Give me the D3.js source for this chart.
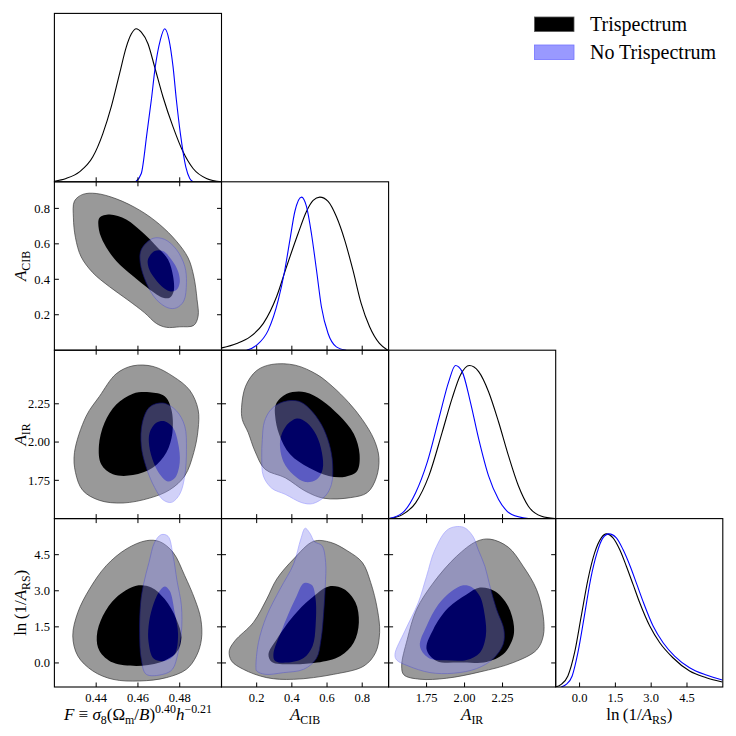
<!DOCTYPE html>
<html>
<head>
<meta charset="utf-8">
<script src="https://cdn.jsdelivr.net/npm/d3@7"></script>
<style>
  body { margin: 0; background: #fff; }
  svg { display: block; }
</style>
</head>
<body>
<svg id="chart" width="736" height="736" font-family="'Liberation Serif', 'DejaVu Serif', serif"></svg>
<script>
// ---- parameters (order of the triangle) ----
const domains = [[0.42, 0.50], [0, 0.95], [1.5, 2.6], [-1, 6]];
const ticks = [[0.44, 0.46, 0.48], [0.2, 0.4, 0.6, 0.8], [1.75, 2.0, 2.25], [0, 1.5, 3.0, 4.5]];
const tickFormats = [".2f", ".1f", ".2f", ".1f"];

// ---- 1D marginals: [value, relative density] ----
const F_tri = [[0.42,0.004],[0.4256,0.022],[0.432,0.065],[0.4384,0.163],[0.4432,0.315],[0.4472,0.489],[0.4512,0.707],[0.4544,0.88],[0.4568,0.965],[0.4592,1.0],[0.4616,0.978],[0.4648,0.902],[0.468,0.75],[0.472,0.554],[0.4768,0.359],[0.4816,0.196],[0.4864,0.087],[0.4928,0.022],[0.50,0.0]];
const F_noTri = [[0.4589,0],[0.4616,0.054],[0.4643,0.316],[0.4664,0.534],[0.4683,0.752],[0.4707,0.926],[0.4728,1.0],[0.4749,0.926],[0.4768,0.752],[0.4784,0.534],[0.4803,0.316],[0.4829,0.098],[0.4848,0.022],[0.4864,0]];
const ACIB_tri = [[0.002,0.015],[0.087,0.044],[0.162,0.087],[0.238,0.175],[0.313,0.349],[0.37,0.546],[0.436,0.764],[0.483,0.906],[0.521,0.978],[0.559,1.0],[0.606,0.972],[0.653,0.873],[0.70,0.721],[0.747,0.524],[0.794,0.306],[0.842,0.153],[0.898,0.044],[0.945,0.0]];
const ACIB_noTri = [[0.143,0],[0.20,0.033],[0.266,0.131],[0.323,0.328],[0.36,0.524],[0.389,0.721],[0.417,0.906],[0.455,1.0],[0.483,0.939],[0.511,0.764],[0.54,0.524],[0.568,0.284],[0.606,0.109],[0.653,0.022],[0.709,0]];
const AIR_tri = [[1.503,0],[1.591,0.026],[1.678,0.103],[1.765,0.279],[1.853,0.565],[1.918,0.785],[1.973,0.938],[2.032,1.0],[2.093,0.96],[2.158,0.829],[2.224,0.631],[2.289,0.411],[2.355,0.213],[2.42,0.081],[2.507,0.015],[2.595,0]];
const AIR_noTri = [[1.503,0],[1.591,0.037],[1.678,0.169],[1.754,0.367],[1.831,0.653],[1.896,0.895],[1.94,1.0],[1.984,0.96],[2.038,0.763],[2.093,0.521],[2.158,0.279],[2.224,0.125],[2.311,0.026],[2.42,0]];
const lnRS_tri = [[-1.02,0],[-0.77,0.017],[-0.49,0.072],[-0.21,0.224],[0.07,0.463],[0.35,0.702],[0.63,0.876],[0.91,0.974],[1.12,1.0],[1.40,0.974],[1.68,0.898],[1.96,0.789],[2.24,0.67],[2.52,0.55],[2.94,0.398],[3.36,0.289],[3.91,0.191],[4.61,0.104],[5.31,0.061],[5.98,0.033]];
const lnRS_noTri = [[-0.77,0],[-0.56,0.017],[-0.31,0.072],[-0.07,0.224],[0.20,0.463],[0.46,0.702],[0.73,0.876],[0.98,0.974],[1.23,1.0],[1.54,0.974],[1.82,0.898],[2.12,0.789],[2.40,0.67],[2.68,0.55],[3.08,0.398],[3.50,0.289],[3.98,0.202],[4.61,0.126],[5.31,0.078],[5.98,0.046]];

// ---- 2D contours (68% inner, 95% outer), vertices in data units ----
const F_ACIB_triOuter = [[0.4296,0.841],[0.4336,0.879],[0.44,0.884],[0.4496,0.854],[0.4608,0.79],[0.4704,0.709],[0.4784,0.615],[0.484,0.521],[0.4867,0.418],[0.4883,0.286],[0.4888,0.192],[0.4867,0.14],[0.48,0.132],[0.4736,0.129],[0.4688,0.151],[0.4632,0.211],[0.4552,0.283],[0.4464,0.358],[0.4384,0.437],[0.4328,0.527],[0.4301,0.634],[0.4291,0.747]];
const F_ACIB_triInner = [[0.4416,0.747],[0.4464,0.766],[0.4544,0.738],[0.4624,0.662],[0.4688,0.587],[0.4744,0.512],[0.4768,0.418],[0.4771,0.333],[0.4752,0.296],[0.472,0.296],[0.4656,0.343],[0.4576,0.418],[0.4496,0.503],[0.444,0.597],[0.4413,0.681]];
const F_ACIB_noTriOuter = [[0.4616,0.568],[0.4672,0.631],[0.4728,0.625],[0.4784,0.568],[0.4824,0.474],[0.4832,0.38],[0.4819,0.277],[0.4784,0.239],[0.4744,0.239],[0.4688,0.286],[0.464,0.38],[0.4611,0.493]];
const F_ACIB_noTriInner = [[0.4648,0.512],[0.468,0.559],[0.472,0.559],[0.476,0.512],[0.4792,0.446],[0.48,0.38],[0.4784,0.339],[0.4752,0.333],[0.4712,0.362],[0.4672,0.418],[0.4651,0.465]];

const F_AIR_triOuter = [[0.4296,1.931],[0.4352,2.169],[0.4416,2.299],[0.4496,2.446],[0.4576,2.498],[0.4672,2.494],[0.4768,2.429],[0.4848,2.338],[0.4888,2.212],[0.4888,2.082],[0.4867,1.931],[0.4824,1.779],[0.4752,1.688],[0.4656,1.634],[0.4528,1.602],[0.4416,1.619],[0.4336,1.684],[0.4301,1.801]];
const F_AIR_triInner = [[0.4413,1.974],[0.444,2.126],[0.4496,2.245],[0.4576,2.316],[0.4656,2.325],[0.4728,2.299],[0.476,2.212],[0.4765,2.061],[0.4736,1.931],[0.4672,1.833],[0.4576,1.784],[0.448,1.79],[0.4424,1.855]];
const F_AIR_noTriOuter = [[0.4621,2.126],[0.4656,2.229],[0.472,2.255],[0.4784,2.204],[0.4824,2.104],[0.4832,1.952],[0.4824,1.779],[0.48,1.66],[0.476,1.606],[0.472,1.623],[0.468,1.703],[0.464,1.833],[0.4616,1.974]];
const F_AIR_noTriInner = [[0.4656,2.061],[0.4688,2.126],[0.4728,2.136],[0.4768,2.093],[0.4792,1.996],[0.48,1.866],[0.4779,1.768],[0.4744,1.742],[0.4707,1.784],[0.4675,1.866],[0.4654,1.974]];

const F_lnRS_triOuter = [[0.4288,1.125],[0.4312,2.097],[0.4368,3.07],[0.4448,4.042],[0.4544,4.736],[0.464,5.083],[0.4704,5.042],[0.4768,4.597],[0.4824,3.625],[0.4872,2.653],[0.4901,1.82],[0.4904,0.986],[0.488,0.292],[0.4832,-0.264],[0.4736,-0.611],[0.4608,-0.75],[0.448,-0.681],[0.4384,-0.333],[0.4312,0.292]];
const F_lnRS_triInner = [[0.4403,1.125],[0.4432,1.959],[0.4496,2.722],[0.4592,3.209],[0.4664,3.139],[0.4728,2.653],[0.4784,1.82],[0.4808,1.056],[0.4784,0.431],[0.4704,0.014],[0.4592,-0.125],[0.448,0.014],[0.4416,0.5]];
const F_lnRS_noTriOuter = [[0.4613,2.514],[0.4627,3.278],[0.4653,4.181],[0.468,5.014],[0.4712,5.334],[0.4744,5.264],[0.4768,4.459],[0.4787,3.417],[0.4808,2.375],[0.4808,1.264],[0.4792,0.431],[0.4765,-0.264],[0.472,-0.472],[0.464,-0.472],[0.4616,0.153],[0.4608,1.264]];
const F_lnRS_noTriInner = [[0.4651,1.542],[0.4669,2.306],[0.4701,2.959],[0.4728,3.181],[0.4752,3.0],[0.4776,2.097],[0.4792,1.195],[0.4776,0.361],[0.4728,0.083],[0.4675,0.181],[0.4651,0.847]];

const ACIB_AIR_triOuter = [[0.114,2.224],[0.137,2.365],[0.20,2.467],[0.286,2.507],[0.419,2.502],[0.543,2.441],[0.629,2.365],[0.724,2.257],[0.80,2.148],[0.867,2.017],[0.895,1.898],[0.88,1.767],[0.829,1.67],[0.733,1.637],[0.581,1.633],[0.476,1.68],[0.362,1.767],[0.248,1.822],[0.19,1.941],[0.152,2.061],[0.118,2.148]];
const ACIB_AIR_triInner = [[0.309,2.246],[0.371,2.315],[0.476,2.326],[0.571,2.272],[0.667,2.176],[0.752,2.054],[0.785,1.92],[0.771,1.811],[0.705,1.774],[0.61,1.778],[0.495,1.833],[0.39,1.92],[0.328,2.05],[0.305,2.17]];
const ACIB_AIR_noTriOuter = [[0.244,2.133],[0.282,2.213],[0.352,2.263],[0.438,2.267],[0.499,2.22],[0.568,2.115],[0.613,1.985],[0.632,1.854],[0.625,1.724],[0.59,1.648],[0.518,1.598],[0.457,1.604],[0.362,1.659],[0.286,1.698],[0.238,1.778],[0.229,1.898],[0.232,2.017]];
const ACIB_AIR_noTriInner = [[0.333,2.007],[0.366,2.104],[0.429,2.154],[0.486,2.126],[0.539,2.046],[0.571,1.93],[0.575,1.822],[0.543,1.757],[0.476,1.739],[0.41,1.785],[0.352,1.872]];

const ACIB_lnRS_triOuter = [[0.044,0.5],[0.076,0.917],[0.181,1.681],[0.257,2.653],[0.314,3.486],[0.41,4.32],[0.524,5.056],[0.619,5.014],[0.714,4.667],[0.80,4.181],[0.848,3.347],[0.886,2.236],[0.899,1.264],[0.876,0.431],[0.81,-0.125],[0.638,-0.472],[0.41,-0.681],[0.257,-0.611],[0.124,-0.264],[0.057,0.083]];
const ACIB_lnRS_triInner = [[0.267,0.361],[0.314,0.986],[0.41,1.959],[0.505,2.653],[0.61,3.181],[0.695,3.07],[0.762,2.514],[0.781,1.681],[0.752,0.847],[0.676,0.292],[0.543,0.014],[0.39,-0.056],[0.286,0.042]];
const ACIB_lnRS_noTriOuter = [[0.196,-0.194],[0.21,0.847],[0.257,1.959],[0.333,3.07],[0.41,4.111],[0.451,5.153],[0.476,5.598],[0.505,5.361],[0.528,5.042],[0.571,4.875],[0.592,4.181],[0.59,3.209],[0.581,2.097],[0.566,0.986],[0.539,0.181],[0.467,-0.264],[0.352,-0.403],[0.248,-0.472],[0.20,-0.333]];
const ACIB_lnRS_noTriInner = [[0.295,0.361],[0.349,1.472],[0.419,2.653],[0.47,3.32],[0.514,3.236],[0.535,2.653],[0.535,1.542],[0.518,0.708],[0.467,0.208],[0.371,0.014],[0.305,0.083]];

const AIR_lnRS_triOuter = [[1.586,-0.124],[1.623,0.98],[1.684,2.222],[1.794,3.326],[1.947,4.43],[2.079,5.051],[2.167,5.147],[2.287,4.816],[2.386,4.016],[2.474,3.05],[2.518,1.946],[2.518,1.118],[2.474,0.538],[2.32,0.014],[2.101,-0.373],[1.882,-0.635],[1.706,-0.676],[1.601,-0.497]];
const AIR_lnRS_triInner = [[1.75,0.566],[1.794,1.394],[1.893,2.291],[2.013,2.843],[2.101,3.133],[2.20,2.981],[2.287,2.36],[2.325,1.532],[2.316,0.98],[2.254,0.359],[2.145,0.041],[1.969,0.014],[1.816,0.083]];
const AIR_lnRS_noTriOuter = [[1.542,0.359],[1.607,1.325],[1.695,2.498],[1.75,3.602],[1.805,4.706],[1.893,5.561],[1.991,5.644],[2.053,5.285],[2.09,4.706],[2.134,4.016],[2.167,3.188],[2.211,2.222],[2.259,1.394],[2.254,0.773],[2.189,0.179],[2.079,-0.235],[1.925,-0.428],[1.772,-0.4],[1.629,-0.124],[1.553,0.124]];
const AIR_lnRS_noTriInner = [[1.706,0.704],[1.75,1.532],[1.827,2.429],[1.914,2.981],[1.991,3.229],[2.046,3.16],[2.101,2.774],[2.134,1.946],[2.14,1.118],[2.101,0.428],[2.013,0.124],[1.882,0.11],[1.761,0.221]];

const legendLabels = ["Trispectrum", "No Trispectrum"];

// ---- tables built from the arrays above ----
const marginals = [[F_tri, F_noTri], [ACIB_tri, ACIB_noTri], [AIR_tri, AIR_noTri], [lnRS_tri, lnRS_noTri]];
const contours = [
  { row: 1, col: 0, tri: [F_ACIB_triOuter, F_ACIB_triInner], noTri: [F_ACIB_noTriOuter, F_ACIB_noTriInner] },
  { row: 2, col: 0, tri: [F_AIR_triOuter, F_AIR_triInner], noTri: [F_AIR_noTriOuter, F_AIR_noTriInner] },
  { row: 3, col: 0, tri: [F_lnRS_triOuter, F_lnRS_triInner], noTri: [F_lnRS_noTriOuter, F_lnRS_noTriInner] },
  { row: 2, col: 1, tri: [ACIB_AIR_triOuter, ACIB_AIR_triInner], noTri: [ACIB_AIR_noTriOuter, ACIB_AIR_noTriInner] },
  { row: 3, col: 1, tri: [ACIB_lnRS_triOuter, ACIB_lnRS_triInner], noTri: [ACIB_lnRS_noTriOuter, ACIB_lnRS_noTriInner] },
  { row: 3, col: 2, tri: [AIR_lnRS_triOuter, AIR_lnRS_triInner], noTri: [AIR_lnRS_noTriOuter, AIR_lnRS_noTriInner] }
];

// axis labels as runs of text: [text, style] with style it/sub/sup
const labelRuns = [
  [["F", "it"], [" \u2261 ", ""], ["\u03c3", "it"], ["8", "sub"], ["(\u03a9", ""], ["m", "sub"], ["/", ""], ["B", "it"], [")", ""], ["0.40", "sup"], ["h", "it"], ["\u22120.21", "sup"]],
  [["A", "it"], ["CIB", "sub"]],
  [["A", "it"], ["IR", "sub"]],
  [["ln", ""], ["\u2009(1/", ""], ["A", "it"], ["RS", "sub"], [")", ""]]
];

// ---- layout ----
const svg = d3.select("#chart");
const left = 54.4, top0 = 13.4, pw = 167.1, ph = 168.4, n = 4;
const tickLen = 4.5;

const xScales = domains.map((d, i) => d3.scaleLinear().domain(d).range([left + i * pw, left + (i + 1) * pw]));
const yScales = domains.map((d, i) => d3.scaleLinear().domain(d).range([top0 + (i + 1) * ph, top0 + i * ph]));
const pdfScales = d3.range(n).map(i => d3.scaleLinear().domain([0, 1.1]).range([top0 + (i + 1) * ph, top0 + i * ph]));

const defs = svg.append("defs");
function clipFor(r, c) {
  const id = `clip-${r}-${c}`;
  defs.append("clipPath").attr("id", id).append("rect")
    .attr("x", left + c * pw).attr("y", top0 + r * ph).attr("width", pw).attr("height", ph);
  return `url(#${id})`;
}

function writeRuns(sel, runs, size) {
  let shift = 0;
  runs.forEach(([t, s]) => {
    const sp = sel.append("tspan").text(t);
    let target = 0;
    if (s === "it") sp.attr("font-style", "italic");
    if (s === "sub") { sp.attr("font-size", size * 0.7); target = size * 0.22; }
    if (s === "sup") { sp.attr("font-size", size * 0.7); target = -size * 0.42; }
    sp.attr("dy", target - shift);
    shift = target;
  });
}

// ---- diagonal: 1D marginals ----
const pdfLine = (i) => d3.line().x(d => xScales[i](d[0])).y(d => pdfScales[i](d[1])).curve(d3.curveMonotoneX);
d3.range(n).forEach(i => {
  const g = svg.append("g").attr("clip-path", clipFor(i, i));
  g.append("path").datum(marginals[i][0]).attr("d", pdfLine(i))
    .attr("fill", "none").attr("stroke", "#000").attr("stroke-width", 1.1);
  g.append("path").datum(marginals[i][1]).attr("d", pdfLine(i))
    .attr("fill", "none").attr("stroke", "#0000ff").attr("stroke-width", 1.1);
});

// ---- off-diagonal: filled contours ----
contours.forEach(p => {
  const xs = xScales[p.col], ys = yScales[p.row];
  const shape = d3.line().x(d => xs(d[0])).y(d => ys(d[1])).curve(d3.curveCatmullRomClosed.alpha(0.5));
  const g = svg.append("g").attr("clip-path", clipFor(p.row, p.col));
  g.append("path").attr("d", shape(p.tri[0])).attr("fill", "#999999").attr("stroke", "#3c3c3c").attr("stroke-width", 0.7);
  g.append("path").attr("d", shape(p.tri[1])).attr("fill", "#000");
  const b = g.append("g").attr("opacity", 0.4);
  b.append("path").attr("d", shape(p.noTri[0])).attr("fill", "#8f8fee").attr("stroke", "#2020ff").attr("stroke-width", 0.7);
  b.append("path").attr("d", shape(p.noTri[1])).attr("fill", "#0000ff");
});

// ---- frames and ticks ----
for (let r = 0; r < n; r++) {
  for (let c = 0; c <= r; c++) {
    const x0 = left + c * pw, y0 = top0 + r * ph;
    const g = svg.append("g");
    const tk = g.append("g").attr("stroke", "#000").attr("stroke-width", 1);
    ticks[c].forEach(v => {
      const x = xScales[c](v);
      tk.append("line").attr("x1", x).attr("x2", x).attr("y1", y0 + ph).attr("y2", y0 + ph - tickLen);
      if (r !== c) tk.append("line").attr("x1", x).attr("x2", x).attr("y1", y0).attr("y2", y0 + tickLen);
    });
    if (r !== c) {
      ticks[r].forEach(v => {
        const y = yScales[r](v);
        tk.append("line").attr("x1", x0).attr("x2", x0 + tickLen).attr("y1", y).attr("y2", y);
        tk.append("line").attr("x1", x0 + pw).attr("x2", x0 + pw - tickLen).attr("y1", y).attr("y2", y);
      });
    }
    g.append("rect").attr("x", x0).attr("y", y0).attr("width", pw).attr("height", ph)
      .attr("fill", "none").attr("stroke", "#000").attr("stroke-width", 1.1);
  }
}

// ---- tick labels ----
const bottom = top0 + n * ph;
const tickSize = 12.5;
d3.range(n).forEach(c => {
  const fmt = d3.format(tickFormats[c]);
  svg.append("g").selectAll("text").data(ticks[c]).join("text")
    .attr("x", d => xScales[c](d)).attr("y", bottom + 15)
    .attr("text-anchor", "middle").attr("font-size", tickSize)
    .text(d => fmt(d));
});
d3.range(1, n).forEach(r => {
  const fmt = d3.format(tickFormats[r]);
  svg.append("g").selectAll("text").data(ticks[r]).join("text")
    .attr("x", left - 4.5).attr("y", d => yScales[r](d)).attr("dy", "0.35em")
    .attr("text-anchor", "end").attr("font-size", tickSize)
    .text(d => fmt(d));
});

// ---- axis labels ----
const labelSize = 17;
d3.range(n).forEach(c => {
  const t = svg.append("text").attr("x", left + (c + 0.5) * pw).attr("y", 720)
    .attr("text-anchor", "middle").attr("font-size", labelSize);
  writeRuns(t, labelRuns[c], labelSize);
});
d3.range(1, n).forEach(r => {
  const t = svg.append("text").attr("text-anchor", "middle").attr("font-size", labelSize)
    .attr("transform", `translate(26,${top0 + (r + 0.5) * ph}) rotate(-90)`);
  writeRuns(t, labelRuns[r], labelSize);
});

// ---- legend ----
const legendFill = ["#000000", "#9999ff"];
const legendStroke = ["#555555", "#7373ff"];
const lg = svg.append("g");
legendLabels.forEach((name, i) => {
  const y = 17 + i * 28;
  lg.append("rect").attr("x", 534.5).attr("y", y).attr("width", 39.5).attr("height", 14.5)
    .attr("fill", legendFill[i]).attr("stroke", legendStroke[i]).attr("stroke-width", 0.8);
  lg.append("text").attr("x", 590).attr("y", y + 13.5).attr("font-size", 20).text(name);
});
</script>
</body>
</html>
